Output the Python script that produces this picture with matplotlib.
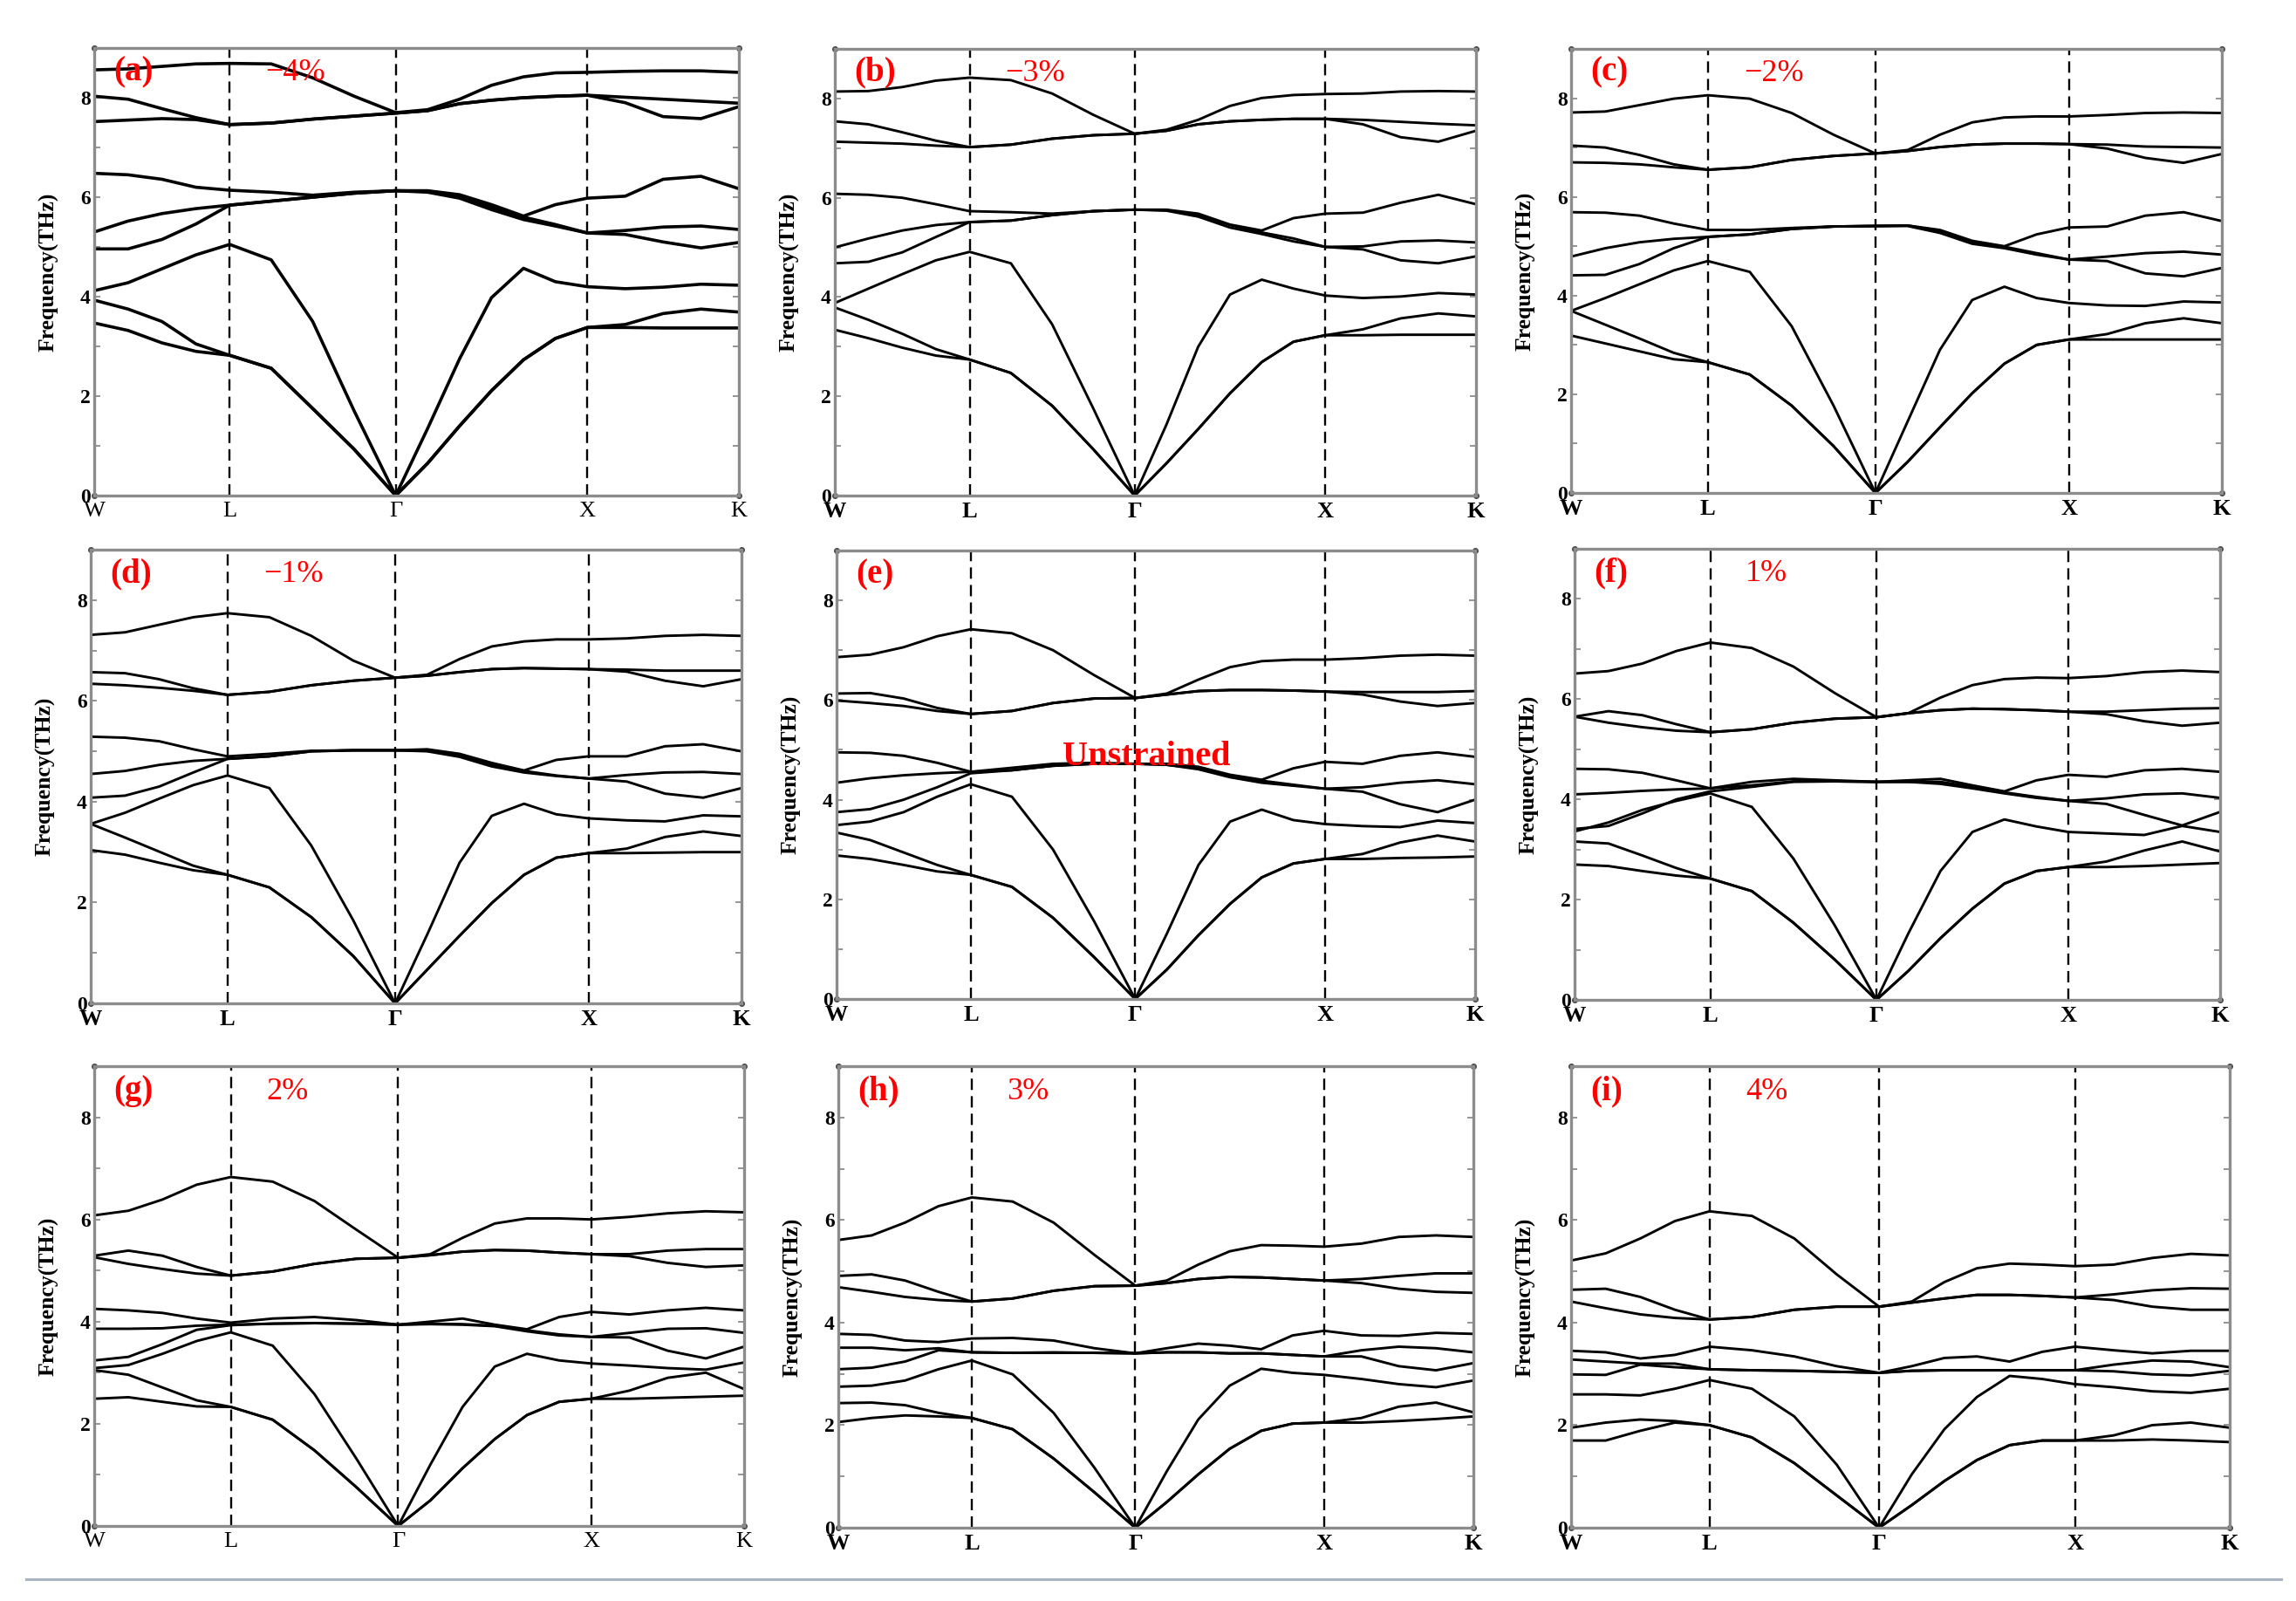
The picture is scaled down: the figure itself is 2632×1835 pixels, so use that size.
import matplotlib.pyplot as plt
from matplotlib.lines import Line2D
import numpy as np

plt.rcParams['font.family'] = ['Liberation Serif', 'DejaVu Serif']

# high-symmetry points of the fcc path W-L-G-X-K (path length)
K_LABELS = ['W', 'L', 'Γ', 'X', 'K']
K_POINTS = [0.0, 0.7071, 1.5731, 2.5731, 3.3637]
SEG_STEPS = [4, 4, 6, 4]  # read-off samples per segment

PANEL_TAGS = ['(a)', '(b)', '(c)', '(d)', '(e)', '(f)', '(g)', '(h)', '(i)']
STRAIN_LABELS = ['−4%', '−3%', '−2%', '−1%', '', '1%', '2%', '3%', '4%']

# phonon frequencies (THz), 9 branches, each sampled at 19 k-points
# W .. L | .. G | .. X | .. K
BANDS_M4 = [
    [3.47, 3.32, 3.07, 2.90, 2.82, 2.56, 1.75, 0.93, 0.0, 0.65, 1.40, 2.11, 2.73, 3.16, 3.38, 3.38, 3.37, 3.37, 3.37],
    [3.93, 3.75, 3.50, 3.05, 2.82, 2.56, 1.75, 0.93, 0.0, 0.65, 1.40, 2.11, 2.73, 3.16, 3.38, 3.44, 3.66, 3.75, 3.69],
    [4.12, 4.28, 4.56, 4.84, 5.05, 4.74, 3.50, 1.70, 0.0, 1.35, 2.75, 3.98, 4.57, 4.30, 4.20, 4.16, 4.19, 4.25, 4.23],
    [4.96, 4.96, 5.15, 5.46, 5.84, 5.92, 6.00, 6.08, 6.13, 6.10, 5.98, 5.75, 5.55, 5.42, 5.28, 5.25, 5.10, 4.98, 5.09],
    [5.30, 5.52, 5.67, 5.77, 5.84, 5.92, 6.00, 6.08, 6.13, 6.12, 6.00, 5.80, 5.60, 5.45, 5.28, 5.33, 5.40, 5.42, 5.35],
    [6.48, 6.45, 6.36, 6.20, 6.14, 6.10, 6.04, 6.10, 6.13, 6.13, 6.05, 5.85, 5.62, 5.85, 5.98, 6.02, 6.36, 6.42, 6.17],
    [7.52, 7.55, 7.58, 7.56, 7.46, 7.49, 7.57, 7.63, 7.69, 7.74, 7.88, 7.95, 8.00, 8.03, 8.05, 7.90, 7.62, 7.58, 7.82],
    [8.03, 7.97, 7.78, 7.60, 7.46, 7.49, 7.57, 7.63, 7.69, 7.74, 7.88, 7.95, 8.00, 8.03, 8.05, 8.01, 7.97, 7.93, 7.89],
    [8.56, 8.58, 8.63, 8.68, 8.69, 8.68, 8.40, 8.03, 7.70, 7.76, 7.97, 8.25, 8.42, 8.50, 8.51, 8.53, 8.54, 8.54, 8.51],
]
BANDS_M3 = [
    [3.34, 3.17, 2.98, 2.82, 2.74, 2.47, 1.81, 0.93, 0.0, 0.65, 1.34, 2.06, 2.69, 3.10, 3.23, 3.23, 3.24, 3.24, 3.24],
    [3.79, 3.54, 3.26, 2.95, 2.74, 2.47, 1.81, 0.93, 0.0, 0.65, 1.34, 2.06, 2.69, 3.10, 3.23, 3.35, 3.57, 3.67, 3.61],
    [3.88, 4.17, 4.46, 4.74, 4.91, 4.68, 3.45, 1.75, 0.0, 1.43, 3.00, 4.05, 4.35, 4.17, 4.03, 3.98, 4.01, 4.08, 4.05],
    [4.68, 4.71, 4.90, 5.21, 5.51, 5.54, 5.65, 5.73, 5.76, 5.74, 5.62, 5.40, 5.27, 5.12, 5.01, 4.96, 4.74, 4.68, 4.82],
    [5.00, 5.18, 5.34, 5.45, 5.51, 5.54, 5.65, 5.73, 5.76, 5.75, 5.65, 5.45, 5.30, 5.18, 5.01, 5.02, 5.12, 5.14, 5.10],
    [6.08, 6.06, 6.00, 5.87, 5.73, 5.71, 5.68, 5.73, 5.76, 5.76, 5.68, 5.46, 5.34, 5.59, 5.68, 5.70, 5.90, 6.06, 5.87],
    [7.13, 7.11, 7.09, 7.05, 7.02, 7.07, 7.19, 7.26, 7.29, 7.35, 7.48, 7.54, 7.57, 7.59, 7.59, 7.48, 7.22, 7.13, 7.35],
    [7.54, 7.48, 7.32, 7.15, 7.02, 7.07, 7.19, 7.26, 7.29, 7.35, 7.48, 7.54, 7.57, 7.59, 7.59, 7.57, 7.53, 7.49, 7.46],
    [8.14, 8.15, 8.23, 8.36, 8.42, 8.37, 8.10, 7.67, 7.29, 7.37, 7.57, 7.85, 8.01, 8.07, 8.09, 8.10, 8.14, 8.15, 8.14],
]
BANDS_M2 = [
    [3.19, 3.03, 2.87, 2.71, 2.65, 2.40, 1.77, 0.95, 0.0, 0.63, 1.33, 2.02, 2.62, 3.00, 3.11, 3.11, 3.11, 3.11, 3.11],
    [3.69, 3.41, 3.13, 2.84, 2.65, 2.40, 1.77, 0.95, 0.0, 0.63, 1.33, 2.02, 2.62, 3.00, 3.11, 3.22, 3.44, 3.54, 3.44],
    [3.69, 3.95, 4.23, 4.51, 4.70, 4.48, 3.38, 1.77, 0.0, 1.45, 2.90, 3.91, 4.18, 3.95, 3.85, 3.80, 3.79, 3.88, 3.86],
    [4.41, 4.42, 4.64, 4.96, 5.19, 5.24, 5.35, 5.40, 5.41, 5.41, 5.27, 5.05, 4.96, 4.83, 4.73, 4.70, 4.45, 4.39, 4.56],
    [4.79, 4.96, 5.08, 5.15, 5.19, 5.24, 5.35, 5.40, 5.41, 5.42, 5.30, 5.08, 4.99, 4.86, 4.73, 4.79, 4.86, 4.89, 4.83],
    [5.69, 5.68, 5.62, 5.46, 5.33, 5.33, 5.37, 5.40, 5.41, 5.42, 5.33, 5.11, 5.00, 5.24, 5.38, 5.40, 5.62, 5.69, 5.51],
    [6.70, 6.69, 6.66, 6.60, 6.55, 6.60, 6.75, 6.83, 6.88, 6.93, 7.01, 7.06, 7.08, 7.08, 7.07, 6.98, 6.79, 6.69, 6.87],
    [7.04, 7.00, 6.85, 6.66, 6.55, 6.60, 6.75, 6.83, 6.88, 6.93, 7.01, 7.06, 7.08, 7.08, 7.07, 7.06, 7.02, 7.01, 7.00],
    [7.71, 7.73, 7.86, 7.99, 8.06, 7.99, 7.70, 7.26, 6.88, 6.95, 7.26, 7.51, 7.61, 7.63, 7.63, 7.66, 7.70, 7.71, 7.70],
]
BANDS_M1 = [
    [3.04, 2.95, 2.79, 2.64, 2.55, 2.30, 1.71, 0.94, 0.0, 0.67, 1.34, 1.99, 2.55, 2.89, 2.98, 2.98, 2.99, 3.00, 3.00],
    [3.56, 3.29, 3.01, 2.73, 2.55, 2.30, 1.71, 0.94, 0.0, 0.67, 1.34, 1.99, 2.55, 2.89, 2.98, 3.07, 3.30, 3.41, 3.32],
    [3.56, 3.78, 4.06, 4.33, 4.52, 4.27, 3.13, 1.65, 0.0, 1.37, 2.79, 3.72, 3.96, 3.75, 3.67, 3.63, 3.61, 3.73, 3.71],
    [4.08, 4.12, 4.30, 4.58, 4.85, 4.90, 5.00, 5.02, 5.02, 5.00, 4.89, 4.70, 4.58, 4.51, 4.46, 4.40, 4.16, 4.08, 4.27],
    [4.55, 4.61, 4.73, 4.81, 4.85, 4.90, 5.00, 5.02, 5.02, 5.01, 4.92, 4.73, 4.61, 4.52, 4.46, 4.53, 4.58, 4.59, 4.55],
    [5.29, 5.27, 5.20, 5.04, 4.90, 4.95, 5.01, 5.02, 5.02, 5.04, 4.95, 4.77, 4.62, 4.83, 4.90, 4.90, 5.10, 5.14, 5.00],
    [6.34, 6.31, 6.26, 6.20, 6.12, 6.18, 6.31, 6.40, 6.46, 6.50, 6.57, 6.63, 6.65, 6.64, 6.63, 6.58, 6.40, 6.29, 6.43],
    [6.57, 6.55, 6.43, 6.25, 6.12, 6.18, 6.31, 6.40, 6.46, 6.50, 6.57, 6.63, 6.65, 6.64, 6.63, 6.62, 6.60, 6.60, 6.60],
    [7.31, 7.36, 7.51, 7.66, 7.74, 7.66, 7.29, 6.80, 6.46, 6.52, 6.83, 7.08, 7.18, 7.22, 7.22, 7.24, 7.29, 7.31, 7.29],
]
BANDS_0 = [
    [2.88, 2.81, 2.69, 2.56, 2.49, 2.25, 1.63, 0.84, 0.0, 0.59, 1.28, 1.91, 2.44, 2.72, 2.81, 2.81, 2.83, 2.84, 2.86],
    [3.34, 3.19, 2.94, 2.69, 2.49, 2.25, 1.63, 0.84, 0.0, 0.59, 1.28, 1.91, 2.44, 2.72, 2.81, 2.91, 3.14, 3.28, 3.16],
    [3.49, 3.56, 3.75, 4.06, 4.31, 4.06, 3.00, 1.56, 0.0, 1.31, 2.69, 3.56, 3.80, 3.59, 3.51, 3.47, 3.45, 3.58, 3.53],
    [3.75, 3.81, 4.00, 4.25, 4.53, 4.59, 4.68, 4.72, 4.72, 4.70, 4.61, 4.45, 4.34, 4.28, 4.22, 4.16, 3.91, 3.75, 4.00],
    [4.34, 4.43, 4.49, 4.53, 4.56, 4.59, 4.68, 4.72, 4.72, 4.70, 4.63, 4.47, 4.38, 4.30, 4.22, 4.25, 4.34, 4.39, 4.31],
    [4.95, 4.94, 4.88, 4.74, 4.56, 4.64, 4.72, 4.74, 4.72, 4.72, 4.66, 4.50, 4.40, 4.63, 4.76, 4.72, 4.88, 4.95, 4.86],
    [5.99, 5.94, 5.88, 5.78, 5.72, 5.78, 5.94, 6.03, 6.04, 6.11, 6.18, 6.20, 6.20, 6.19, 6.17, 6.11, 5.97, 5.88, 5.94],
    [6.13, 6.14, 6.03, 5.84, 5.72, 5.78, 5.94, 6.03, 6.04, 6.11, 6.18, 6.20, 6.20, 6.19, 6.17, 6.16, 6.16, 6.16, 6.18],
    [6.86, 6.91, 7.06, 7.28, 7.42, 7.34, 7.00, 6.50, 6.04, 6.13, 6.41, 6.66, 6.78, 6.81, 6.81, 6.84, 6.89, 6.91, 6.89],
]
BANDS_P1 = [
    [2.70, 2.67, 2.57, 2.48, 2.42, 2.17, 1.54, 0.80, 0.0, 0.58, 1.23, 1.82, 2.32, 2.57, 2.65, 2.65, 2.67, 2.70, 2.73],
    [3.16, 3.12, 2.88, 2.63, 2.42, 2.17, 1.54, 0.80, 0.0, 0.58, 1.23, 1.82, 2.32, 2.57, 2.65, 2.76, 2.98, 3.16, 2.96],
    [3.36, 3.54, 3.79, 3.97, 4.12, 3.85, 2.82, 1.48, 0.0, 1.33, 2.57, 3.35, 3.60, 3.46, 3.35, 3.32, 3.29, 3.47, 3.35],
    [3.41, 3.47, 3.72, 4.00, 4.16, 4.25, 4.35, 4.36, 4.35, 4.35, 4.31, 4.22, 4.12, 4.03, 3.97, 3.91, 3.69, 3.48, 3.75],
    [4.10, 4.13, 4.17, 4.20, 4.22, 4.28, 4.36, 4.36, 4.35, 4.35, 4.35, 4.25, 4.14, 4.05, 3.97, 4.02, 4.10, 4.12, 4.03],
    [4.61, 4.60, 4.53, 4.38, 4.22, 4.35, 4.41, 4.38, 4.35, 4.38, 4.41, 4.28, 4.16, 4.38, 4.49, 4.45, 4.58, 4.61, 4.55],
    [5.65, 5.53, 5.44, 5.37, 5.34, 5.40, 5.53, 5.61, 5.64, 5.72, 5.78, 5.81, 5.80, 5.78, 5.75, 5.70, 5.56, 5.47, 5.53],
    [5.65, 5.76, 5.68, 5.50, 5.34, 5.40, 5.53, 5.61, 5.64, 5.72, 5.78, 5.81, 5.80, 5.78, 5.75, 5.75, 5.78, 5.81, 5.82],
    [6.51, 6.56, 6.71, 6.96, 7.13, 7.02, 6.65, 6.12, 5.64, 5.72, 6.03, 6.28, 6.40, 6.43, 6.42, 6.46, 6.54, 6.57, 6.54],
]
BANDS_P2 = [
    [2.49, 2.52, 2.43, 2.34, 2.33, 2.08, 1.48, 0.76, 0.0, 0.50, 1.13, 1.70, 2.17, 2.43, 2.49, 2.49, 2.51, 2.53, 2.55],
    [3.05, 2.96, 2.71, 2.46, 2.33, 2.08, 1.48, 0.76, 0.0, 0.50, 1.13, 1.70, 2.17, 2.43, 2.49, 2.65, 2.90, 3.00, 2.68],
    [3.09, 3.15, 3.37, 3.62, 3.79, 3.53, 2.58, 1.32, 0.0, 1.20, 2.33, 3.12, 3.37, 3.24, 3.18, 3.14, 3.09, 3.06, 3.20],
    [3.24, 3.31, 3.56, 3.84, 3.93, 3.96, 3.97, 3.96, 3.94, 3.95, 3.94, 3.91, 3.81, 3.73, 3.70, 3.69, 3.43, 3.28, 3.51],
    [3.86, 3.86, 3.87, 3.92, 3.94, 3.96, 3.97, 3.96, 3.94, 3.96, 3.95, 3.92, 3.83, 3.75, 3.70, 3.78, 3.86, 3.87, 3.78],
    [4.25, 4.22, 4.17, 4.06, 3.98, 4.06, 4.09, 4.03, 3.94, 4.00, 4.06, 3.94, 3.85, 4.09, 4.19, 4.14, 4.22, 4.27, 4.22],
    [5.26, 5.13, 5.03, 4.94, 4.90, 4.98, 5.13, 5.23, 5.25, 5.30, 5.37, 5.40, 5.39, 5.35, 5.32, 5.28, 5.15, 5.07, 5.10],
    [5.29, 5.39, 5.29, 5.07, 4.90, 4.98, 5.13, 5.23, 5.25, 5.30, 5.37, 5.40, 5.39, 5.35, 5.32, 5.32, 5.39, 5.42, 5.42],
    [6.08, 6.17, 6.39, 6.68, 6.83, 6.74, 6.36, 5.80, 5.25, 5.32, 5.64, 5.92, 6.02, 6.02, 6.00, 6.05, 6.12, 6.16, 6.14],
]
BANDS_P3 = [
    [2.06, 2.14, 2.19, 2.17, 2.14, 1.92, 1.35, 0.69, 0.0, 0.50, 1.04, 1.54, 1.89, 2.03, 2.05, 2.05, 2.08, 2.12, 2.17],
    [2.43, 2.44, 2.39, 2.24, 2.14, 1.92, 1.35, 0.69, 0.0, 0.50, 1.04, 1.54, 1.89, 2.03, 2.05, 2.14, 2.36, 2.44, 2.25],
    [2.75, 2.77, 2.87, 3.09, 3.26, 2.99, 2.24, 1.17, 0.0, 1.10, 2.11, 2.77, 3.10, 3.02, 2.98, 2.90, 2.80, 2.74, 2.87],
    [3.09, 3.12, 3.24, 3.46, 3.42, 3.41, 3.41, 3.41, 3.40, 3.42, 3.42, 3.40, 3.40, 3.37, 3.34, 3.34, 3.15, 3.07, 3.21],
    [3.51, 3.51, 3.46, 3.50, 3.42, 3.41, 3.42, 3.41, 3.40, 3.42, 3.42, 3.40, 3.40, 3.37, 3.34, 3.46, 3.53, 3.50, 3.42],
    [3.78, 3.76, 3.65, 3.62, 3.69, 3.70, 3.65, 3.50, 3.40, 3.50, 3.59, 3.55, 3.48, 3.75, 3.84, 3.75, 3.74, 3.80, 3.78],
    [4.69, 4.60, 4.50, 4.44, 4.41, 4.47, 4.62, 4.71, 4.72, 4.77, 4.85, 4.89, 4.88, 4.85, 4.82, 4.77, 4.66, 4.60, 4.58],
    [4.91, 4.94, 4.82, 4.60, 4.41, 4.47, 4.62, 4.71, 4.72, 4.77, 4.85, 4.89, 4.88, 4.85, 4.82, 4.85, 4.91, 4.96, 4.96],
    [5.61, 5.70, 5.95, 6.27, 6.44, 6.36, 5.95, 5.32, 4.72, 4.82, 5.13, 5.39, 5.51, 5.50, 5.48, 5.54, 5.67, 5.70, 5.67],
]
BANDS_P4 = [
    [1.70, 1.70, 1.89, 2.05, 2.00, 1.76, 1.26, 0.63, 0.0, 0.44, 0.91, 1.32, 1.61, 1.70, 1.70, 1.70, 1.72, 1.70, 1.67],
    [1.95, 2.05, 2.11, 2.08, 2.00, 1.76, 1.26, 0.63, 0.0, 0.44, 0.91, 1.32, 1.61, 1.70, 1.70, 1.80, 2.00, 2.05, 1.95],
    [2.60, 2.60, 2.58, 2.71, 2.88, 2.71, 2.17, 1.23, 0.0, 1.04, 1.92, 2.55, 2.96, 2.90, 2.80, 2.74, 2.66, 2.63, 2.71],
    [2.99, 2.98, 3.18, 3.13, 3.09, 3.07, 3.06, 3.04, 3.02, 3.06, 3.07, 3.07, 3.07, 3.07, 3.07, 3.05, 2.99, 2.97, 3.06],
    [3.28, 3.24, 3.20, 3.20, 3.09, 3.07, 3.06, 3.04, 3.02, 3.06, 3.07, 3.07, 3.07, 3.07, 3.07, 3.18, 3.26, 3.24, 3.13],
    [3.45, 3.42, 3.30, 3.37, 3.53, 3.46, 3.34, 3.15, 3.02, 3.15, 3.31, 3.34, 3.24, 3.43, 3.53, 3.46, 3.40, 3.45, 3.45],
    [4.41, 4.28, 4.16, 4.09, 4.06, 4.11, 4.25, 4.31, 4.31, 4.39, 4.47, 4.54, 4.54, 4.52, 4.49, 4.44, 4.31, 4.25, 4.25],
    [4.64, 4.66, 4.50, 4.25, 4.06, 4.11, 4.25, 4.31, 4.31, 4.39, 4.47, 4.54, 4.54, 4.52, 4.49, 4.55, 4.63, 4.67, 4.66],
    [5.21, 5.35, 5.64, 5.98, 6.17, 6.08, 5.64, 4.94, 4.31, 4.41, 4.79, 5.06, 5.15, 5.13, 5.10, 5.13, 5.26, 5.34, 5.31],
]

ALL_BANDS = [BANDS_M4, BANDS_M3, BANDS_M2, BANDS_M1, BANDS_0,
             BANDS_P1, BANDS_P2, BANDS_P3, BANDS_P4]

# axes boxes in pixels of the 2632x1835 canvas: left, right, top, bottom
AX_BOXES = [
    (108, 847, 55, 568), (957, 1692, 56, 568), (1801, 2547, 56, 565),
    (104, 850, 630, 1150), (959, 1691, 631, 1145), (1805, 2545, 629, 1146),
    (108, 853, 1222, 1749), (961, 1689, 1222, 1751), (1801, 2556, 1222, 1751),
]
FIG_W, FIG_H = 2632, 1835


def k_path():
    xs = [K_POINTS[0]]
    for i, n in enumerate(SEG_STEPS):
        xs.extend(np.linspace(K_POINTS[i], K_POINTS[i + 1], n + 1)[1:])
    return np.array(xs)


fig = plt.figure(figsize=(FIG_W / 100, FIG_H / 100), dpi=100)
kx = k_path()

for idx, bands in enumerate(ALL_BANDS):
    l, r, t, b = AX_BOXES[idx]
    ax = fig.add_axes([l / FIG_W, 1 - b / FIG_H, (r - l) / FIG_W, (b - t) / FIG_H])

    lw = 2.6 if idx == 0 else 2.1
    for band in bands:
        ax.plot(kx, band, color='black', lw=lw, solid_joinstyle='round',
                solid_capstyle='round')

    for kp in K_POINTS[1:-1]:
        ax.axvline(kp, color='black', lw=1.7, linestyle=(0, (5.5, 3.0)))

    ax.set_xlim(K_POINTS[0], K_POINTS[-1])
    ax.set_ylim(0, 9)

    for sp in ax.spines.values():
        sp.set_color('#8c8c8c')
        sp.set_linewidth(2.4)

    ax.set_yticks([0, 2, 4, 6, 8])
    ax.set_yticks([1, 3, 5, 7], minor=True)
    ax.tick_params(axis='y', which='both', direction='in', left=True, right=True,
                   length=5, width=1.3, color='#8c8c8c', labelsize=17, pad=3)
    for lab in ax.get_yticklabels():
        lab.set_fontweight('bold')

    ax.set_xticks(K_POINTS)
    xweight = 'normal' if idx in (0, 6) else 'bold'
    ax.set_xticklabels(K_LABELS, fontsize=19, fontweight=xweight)
    ax.tick_params(axis='x', length=0, pad=5)

    ax.set_ylabel('Frequency(THz)', fontsize=18.5, fontweight='bold')
    ax.yaxis.set_label_coords(-40 / (r - l), 0.5)

    # small corner dots of the original plotting program
    ax.plot([0, 1, 0, 1], [0, 0, 1, 1], 'o', ms=4, color='#444444',
            transform=ax.transAxes, clip_on=False)

    ax.text(0.03, 0.928, PANEL_TAGS[idx], transform=ax.transAxes, color='red',
            fontsize=28, fontweight='bold', ha='left', va='baseline')
    if STRAIN_LABELS[idx]:
        ax.text(0.265, 0.928, STRAIN_LABELS[idx], transform=ax.transAxes,
                color='red', fontsize=26, ha='left', va='baseline')
    else:
        ax.text(0.485, 0.521, 'Unstrained', transform=ax.transAxes, color='red',
                fontsize=29, fontweight='bold', ha='center', va='baseline')

# thin separator line at the bottom of the figure
fig.add_artist(Line2D([30 / FIG_W, 2615 / FIG_W], [1 - 1810 / FIG_H] * 2,
                      transform=fig.transFigure, color='#a9b4c2', lw=2.2))

fig.savefig('out.png', dpi=100)
